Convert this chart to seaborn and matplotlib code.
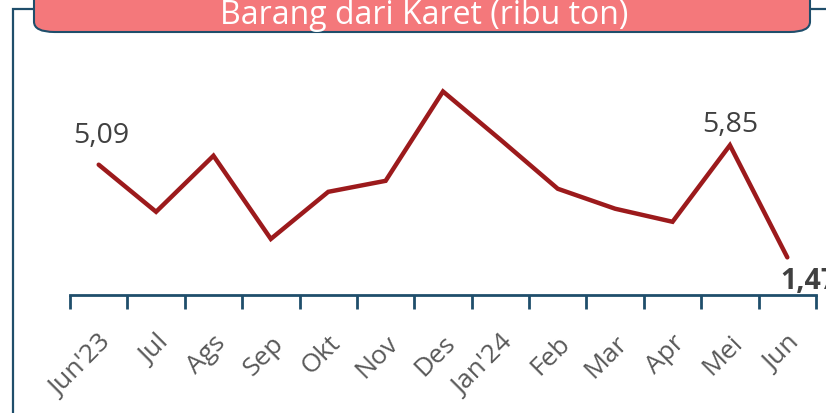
import matplotlib.pyplot as plt
import seaborn as sns
import numpy as np
import pandas as pd
from matplotlib.patches import Rectangle, FancyBboxPatch

# data (ribu ton)
bulan = ["Jun'23", "Jul", "Ags", "Sep", "Okt", "Nov", "Des",
         "Jan'24", "Feb", "Mar", "Apr", "Mei", "Jun"]
nilai = [5.09, 3.25, 5.44, 2.19, 4.03, 4.46, 7.95,
         6.07, 4.15, 3.37, 2.86, 5.85, 1.47]
judul = "Barang dari Karet (ribu ton)"

df = pd.DataFrame({"pos": np.arange(len(bulan)), "nilai": nilai})

sns.set_style("white")
plt.rcParams["font.family"] = ["Open Sans", "DejaVu Sans"]

navy = "#1F4E6B"
merah = "#9C1A1C"
abu = "#595959"

fig = plt.figure(figsize=(8.26, 4.14), dpi=100)
W, H = 826, 414

# outer frame
fig.patches.append(Rectangle((13 / W, -0.1), 1.2, (H - 10) / H + 0.1,
                             transform=fig.transFigure, fill=False,
                             edgecolor=navy, linewidth=1.6, zorder=0))

ax = fig.add_axes([70 / W, 1 - 296 / H, (816 - 70) / W, (296 - 40) / H])
sns.lineplot(data=df, x="pos", y="nilai", ax=ax, color=merah,
             linewidth=3.2, solid_capstyle="round", solid_joinstyle="miter")

ax.set_xlim(-0.5, len(bulan) - 0.5)
ax.set_ylim(0, 10)
ax.set_xlabel("")
ax.set_ylabel("")
ax.set_yticks([])
for s in ["top", "right", "left"]:
    ax.spines[s].set_visible(False)
ax.spines["bottom"].set_color(navy)
ax.spines["bottom"].set_linewidth(2)

ax.set_xticks(np.arange(len(bulan)))
ax.set_xticklabels(bulan, rotation=45, ha="right", rotation_mode="anchor",
                   fontsize=19, color=abu)
ax.tick_params(axis="x", which="major", length=0, pad=25)
ax.set_xticks(np.arange(len(bulan) + 1) - 0.5, minor=True)
ax.tick_params(axis="x", which="minor", bottom=True, length=10, width=2,
               color=navy, direction="out")

# data labels
ax.annotate("5,09", (0, nilai[0]), xytext=(2, 11), textcoords="offset points",
            ha="center", va="bottom", fontsize=20.5, color="#404040")
ax.annotate("5,85", (11, nilai[11]), xytext=(0, 5), textcoords="offset points",
            ha="center", va="bottom", fontsize=20.5, color="#404040")
ax.annotate("1,47", (12, nilai[12]), xytext=(-5, -6), textcoords="offset points",
            ha="left", va="top", fontsize=20.5, color="#404040",
            fontweight="bold", annotation_clip=False)

# title box
fig.patches.append(FancyBboxPatch((34 / W, 1 - 33 / H), (810 - 34) / W, 0.2,
                                  boxstyle="round,pad=0,rounding_size=0.025",
                                  transform=fig.transFigure,
                                  facecolor="#F4787B", edgecolor=navy,
                                  linewidth=1.5, zorder=2))
fig.text(424 / W, 1 - 24 / H, judul, ha="center", va="baseline",
         fontsize=23, color="white", zorder=3)

fig.savefig("out.png", dpi=100)
